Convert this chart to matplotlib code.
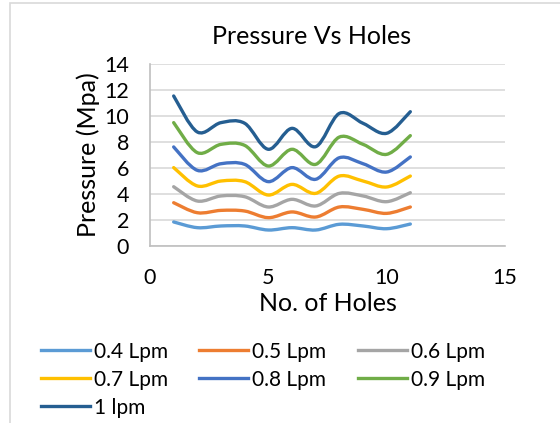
import numpy as np
import matplotlib
matplotlib.use("Agg")
import matplotlib.pyplot as plt
from matplotlib.path import Path
from matplotlib.patches import PathPatch, Rectangle
from matplotlib.lines import Line2D

plt.rcParams['font.family'] = ['Lato', 'DejaVu Sans']

holes = [1, 2, 3, 4, 5, 6, 7, 8, 9, 10, 11]
p_04 = [1.85, 1.41, 1.54, 1.54, 1.23, 1.41, 1.23, 1.67, 1.54, 1.33, 1.69]
p_05 = [3.33, 2.56, 2.74, 2.69, 2.18, 2.62, 2.23, 3.00, 2.82, 2.51, 3.00]
p_06 = [4.56, 3.46, 3.85, 3.79, 3.00, 3.59, 3.08, 4.05, 3.85, 3.41, 4.10]
p_07 = [6.03, 4.62, 5.00, 4.95, 3.92, 4.74, 4.05, 5.38, 5.00, 4.54, 5.38]
p_08 = [7.62, 5.82, 6.33, 6.28, 4.95, 6.03, 5.13, 6.79, 6.33, 5.69, 6.85]
p_09 = [9.49, 7.18, 7.82, 7.74, 6.15, 7.44, 6.28, 8.38, 7.82, 7.05, 8.49]
p_10 = [11.54, 8.77, 9.49, 9.44, 7.44, 9.05, 7.64, 10.20, 9.44, 8.67, 10.33]

series = [p_04, p_05, p_06, p_07, p_08, p_09, p_10]
labels = ['0.4 Lpm', '0.5 Lpm', '0.6 Lpm', '0.7 Lpm', '0.8 Lpm', '0.9 Lpm', '1 lpm']
colors = ['#5B9BD5', '#ED7D31', '#A5A5A5', '#FFC000', '#4472C4', '#70AD47', '#255E91']


def smooth_path(x, y):
    # excel-like smoothed line, bezier segments through the data points
    pts = np.column_stack([x, y]).astype(float)
    ext = np.vstack([pts[0], pts, pts[-1]])
    verts = [pts[0]]
    codes = [Path.MOVETO]
    for i in range(len(pts) - 1):
        p0, p1, p2, p3 = ext[i], ext[i + 1], ext[i + 2], ext[i + 3]
        c1 = p1 + (p2 - p0) / 6
        c2 = p2 - (p3 - p1) / 6
        verts += [c1, c2, p2]
        codes += [Path.CURVE4] * 3
    return Path(verts, codes)


fig = plt.figure(figsize=(5.6, 4.23), dpi=100)
ax = fig.add_axes([150 / 560, 1 - 246 / 423, (505 - 150) / 560, (246 - 64) / 423])

for y, c in zip(series, colors):
    ax.add_patch(PathPatch(smooth_path(holes, y), fill=False, edgecolor=c,
                           lw=2.4, capstyle='round', joinstyle='round', zorder=3))

ax.set_xlim(0, 15)
ax.set_ylim(0, 14)
ax.set_xticks([0, 5, 10, 15])
ax.set_yticks(range(0, 15, 2))
ax.grid(axis='y', color='#D9D9D9', lw=1.2)
ax.tick_params(length=0, labelsize=15.5, colors='#000000')
ax.tick_params(axis='x', pad=16)
ax.tick_params(axis='y', pad=15)
for s in ['top', 'right']:
    ax.spines[s].set_visible(False)
for s in ['left', 'bottom']:
    ax.spines[s].set_color('#BFBFBF')
    ax.spines[s].set_linewidth(1.2)

# excel centres the title on the whole chart area, not the plot area
fig.text(312 / 560, 1 - 36 / 423, 'Pressure Vs Holes', fontsize=18,
         ha='center', va='center')
ax.set_xlabel('No. of Holes', fontsize=18, labelpad=3)
ax.set_ylabel('Pressure (Mpa)', fontsize=18, labelpad=3)

# chart area border
fig.patches.append(Rectangle((10 / 560, -0.1), 1.2, 1 - 3 / 423 + 0.1,
                             transform=fig.transFigure, fill=False,
                             edgecolor='#D9D9D9', lw=1.2))

# row-major order like excel: matplotlib fills the legend column by column
order = [0, 3, 6, 1, 4, 2, 5]
handles = [Line2D([], [], color=colors[i], lw=2.4) for i in order]
fig.legend(handles, [labels[i] for i in order], ncol=3, loc='upper left',
           bbox_to_anchor=(22 / 560, 1 - 323 / 423), frameon=False,
           fontsize=15, handlelength=2.35, handletextpad=0.2,
           columnspacing=1.5, labelspacing=0.38)

fig.savefig('out.png', dpi=100)
